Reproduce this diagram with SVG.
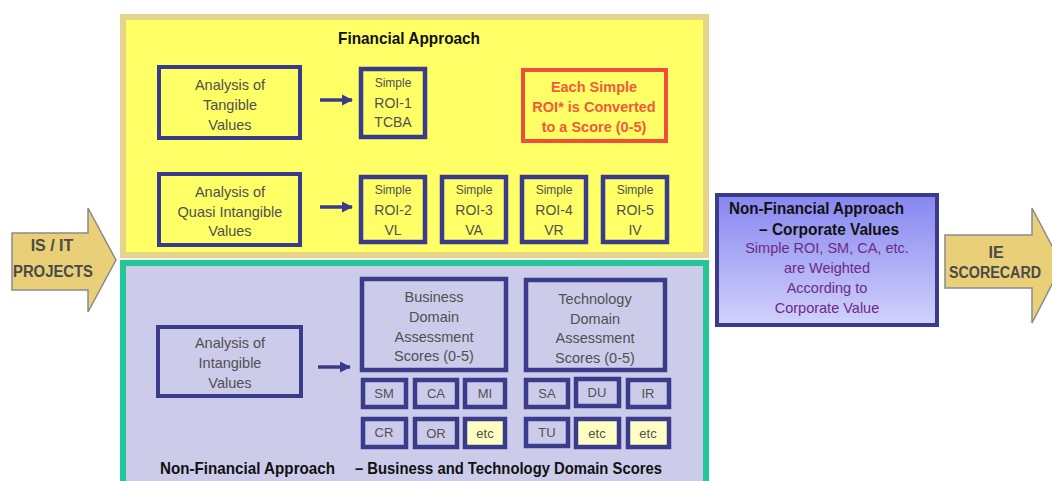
<svg xmlns="http://www.w3.org/2000/svg" width="1052" height="481" viewBox="0 0 1052 481">
<defs>
<style>
.bx{fill:none;stroke:#3b3b8c;stroke-width:4}
.sb{fill:none;stroke:#3b3b8c;stroke-width:4.5}
.t{font-family:"Liberation Sans",Arial,sans-serif;font-size:14.5px;fill:#505050;text-anchor:middle}
.ts{font-family:"Liberation Sans",Arial,sans-serif;font-size:12px;fill:#505050;text-anchor:middle}
.tm{font-family:"Liberation Sans",Arial,sans-serif;font-size:14px;fill:#505050;text-anchor:middle}
.tl{font-family:"Liberation Sans",Arial,sans-serif;font-size:13px;fill:#505050;text-anchor:middle}
.hd{font-family:"Liberation Sans",Arial,sans-serif;font-size:17px;font-weight:bold;fill:#111}
.red{font-family:"Liberation Sans",Arial,sans-serif;font-size:14.5px;font-weight:bold;fill:#f25a3c;text-anchor:middle}
.pur{font-family:"Liberation Sans",Arial,sans-serif;font-size:14.5px;fill:#6e2a86;text-anchor:middle}
.ar{font-family:"Liberation Sans",Arial,sans-serif;font-size:16px;font-weight:bold;fill:#4a4a4a;text-anchor:middle}
.big{fill:#e8cf78;stroke:#8a8a8a;stroke-width:1.5}
.cn{stroke:#3b3b8c;stroke-width:3.5;fill:none;marker-end:url(#ah)}
</style>
<marker id="ah" viewBox="0 0 10 10" refX="9" refY="5" markerWidth="3.2" markerHeight="3.2" orient="auto" markerUnits="strokeWidth">
<path d="M0,0 L10,5 L0,10 z" fill="#3b3b8c"/>
</marker>
<linearGradient id="cg" x1="0" y1="0" x2="0" y2="1">
<stop offset="0" stop-color="#8686f0"/>
<stop offset="1" stop-color="#d2d2fc"/>
</linearGradient>
</defs>

<g id="financial-panel">
<rect x="123" y="17" width="583" height="238" fill="#ffff66" stroke="#e6d48c" stroke-width="6"/>
<text class="hd" x="338" y="44" textLength="142" lengthAdjust="spacingAndGlyphs">Financial Approach</text>
</g>

<g id="nonfinancial-panel">
<rect x="123" y="263" width="583" height="230" fill="#ccccea" stroke="#22c794" stroke-width="6"/>
<text class="hd" x="160" y="474" textLength="175" lengthAdjust="spacingAndGlyphs">Non-Financial Approach</text>
<text class="hd" x="355" y="474" textLength="307" lengthAdjust="spacingAndGlyphs">– Business and Technology Domain Scores</text>
</g>

<g id="is-it-projects">
<path class="big" d="M12,233 H88 V208 L116,260 L88,312 V290 H12 Z"/>
<text class="ar" x="52" y="251">IS / IT</text>
<text class="ar" x="53" y="277" textLength="80" lengthAdjust="spacingAndGlyphs">PROJECTS</text>
</g>

<g id="ie-scorecard">
<path class="big" d="M945,235 H1032 V208 L1062,265 L1032,323 V288 H945 Z"/>
<text class="ar" x="996" y="258">IE</text>
<text class="ar" x="995" y="278" textLength="92" lengthAdjust="spacingAndGlyphs">SCORECARD</text>
</g>

<g id="corporate-values">
<rect x="717" y="195" width="220" height="130" fill="url(#cg)" stroke="#3b3b8c" stroke-width="4"/>
<text class="hd" x="729" y="214" textLength="175" lengthAdjust="spacingAndGlyphs">Non-Financial Approach</text>
<text class="hd" x="759" y="235" textLength="140" lengthAdjust="spacingAndGlyphs">– Corporate Values</text>
<text class="pur" x="827" y="253">Simple ROI, SM, CA, etc.</text>
<text class="pur" x="827" y="273">are Weighted</text>
<text class="pur" x="827" y="293">According to</text>
<text class="pur" x="827" y="313">Corporate Value</text>
</g>

<g id="tangible">
<rect class="bx" x="159" y="67" width="141" height="71"/>
<text class="t" x="230" y="90">Analysis of</text>
<text class="t" x="230" y="110">Tangible</text>
<text class="t" x="230" y="130">Values</text>
</g>

<g id="quasi">
<rect class="bx" x="159" y="174" width="141" height="71"/>
<text class="t" x="230" y="197">Analysis of</text>
<text class="t" x="230" y="217">Quasi Intangible</text>
<text class="t" x="230" y="236">Values</text>
</g>

<g id="intangible">
<rect class="bx" x="158" y="327" width="143" height="69"/>
<text class="t" x="230" y="348">Analysis of</text>
<text class="t" x="230" y="368">Intangible</text>
<text class="t" x="230" y="388">Values</text>
</g>

<g id="roi1">
<rect class="sb" x="361" y="69" width="64" height="68"/>
<text class="ts" x="393" y="87">Simple</text>
<text class="tm" x="393" y="108">ROI-1</text>
<text class="tm" x="393" y="127">TCBA</text>
</g>

<g id="convert-note">
<rect x="523" y="70" width="143" height="71" fill="none" stroke="#f04e3c" stroke-width="4"/>
<text class="red" x="594" y="92">Each Simple</text>
<text class="red" x="594" y="112">ROI* is Converted</text>
<text class="red" x="594" y="132">to a Score (0-5)</text>
</g>

<g id="roi2">
<rect class="sb" x="361" y="177" width="64" height="65"/>
<text class="ts" x="393" y="194">Simple</text>
<text class="tm" x="393" y="215">ROI-2</text>
<text class="tm" x="393" y="235">VL</text>
</g>
<g id="roi3">
<rect class="sb" x="442" y="177" width="64" height="65"/>
<text class="ts" x="474" y="194">Simple</text>
<text class="tm" x="474" y="215">ROI-3</text>
<text class="tm" x="474" y="235">VA</text>
</g>
<g id="roi4">
<rect class="sb" x="522" y="177" width="64" height="65"/>
<text class="ts" x="554" y="194">Simple</text>
<text class="tm" x="554" y="215">ROI-4</text>
<text class="tm" x="554" y="235">VR</text>
</g>
<g id="roi5">
<rect class="sb" x="603" y="177" width="64" height="65"/>
<text class="ts" x="635" y="194">Simple</text>
<text class="tm" x="635" y="215">ROI-5</text>
<text class="tm" x="635" y="235">IV</text>
</g>

<g id="business-domain">
<rect class="sb" x="362" y="279" width="144" height="91"/>
<text class="t" x="434" y="302">Business</text>
<text class="t" x="434" y="322">Domain</text>
<text class="t" x="434" y="342">Assessment</text>
<text class="t" x="434" y="361">Scores (0-5)</text>
</g>

<g id="technology-domain">
<rect class="sb" x="526" y="280" width="139" height="90"/>
<text class="t" x="595" y="304">Technology</text>
<text class="t" x="595" y="324">Domain</text>
<text class="t" x="595" y="343">Assessment</text>
<text class="t" x="595" y="363">Scores (0-5)</text>
</g>

<g id="sm"><rect class="sb" x="363" y="380" width="43" height="27"/><text class="tl" x="384" y="398">SM</text></g>
<g id="ca"><rect class="sb" x="415" y="380" width="42" height="27"/><text class="tl" x="436" y="398">CA</text></g>
<g id="mi"><rect class="sb" x="465" y="380" width="40" height="27"/><text class="tl" x="485" y="398">MI</text></g>
<g id="cr"><rect class="sb" x="363" y="419" width="43" height="28"/><text class="tl" x="384" y="437">CR</text></g>
<g id="or"><rect class="sb" x="415" y="419" width="42" height="28"/><text class="tl" x="436" y="438">OR</text></g>
<g id="etc1"><rect class="sb" x="465" y="419" width="40" height="28" style="fill:#ffffc4"/><text class="tl" x="485" y="438">etc</text></g>

<g id="sa"><rect class="sb" x="526" y="380" width="42" height="27"/><text class="tl" x="547" y="398">SA</text></g>
<g id="du"><rect class="sb" x="576" y="379" width="43" height="27"/><text class="tl" x="597" y="397">DU</text></g>
<g id="ir"><rect class="sb" x="628" y="380" width="41" height="27"/><text class="tl" x="648" y="398">IR</text></g>
<g id="tu"><rect class="sb" x="526" y="419" width="42" height="27"/><text class="tl" x="547" y="437">TU</text></g>
<g id="etc2"><rect class="sb" x="576" y="419" width="43" height="28" style="fill:#ffffc4"/><text class="tl" x="597" y="438">etc</text></g>
<g id="etc3"><rect class="sb" x="628" y="419" width="41" height="28" style="fill:#ffffc4"/><text class="tl" x="648" y="438">etc</text></g>

<g id="connectors">
<line class="cn" x1="320" y1="100" x2="352" y2="100"/>
<line class="cn" x1="320" y1="207" x2="352" y2="207"/>
<line class="cn" x1="318" y1="367" x2="350" y2="367"/>
</g>
</svg>
